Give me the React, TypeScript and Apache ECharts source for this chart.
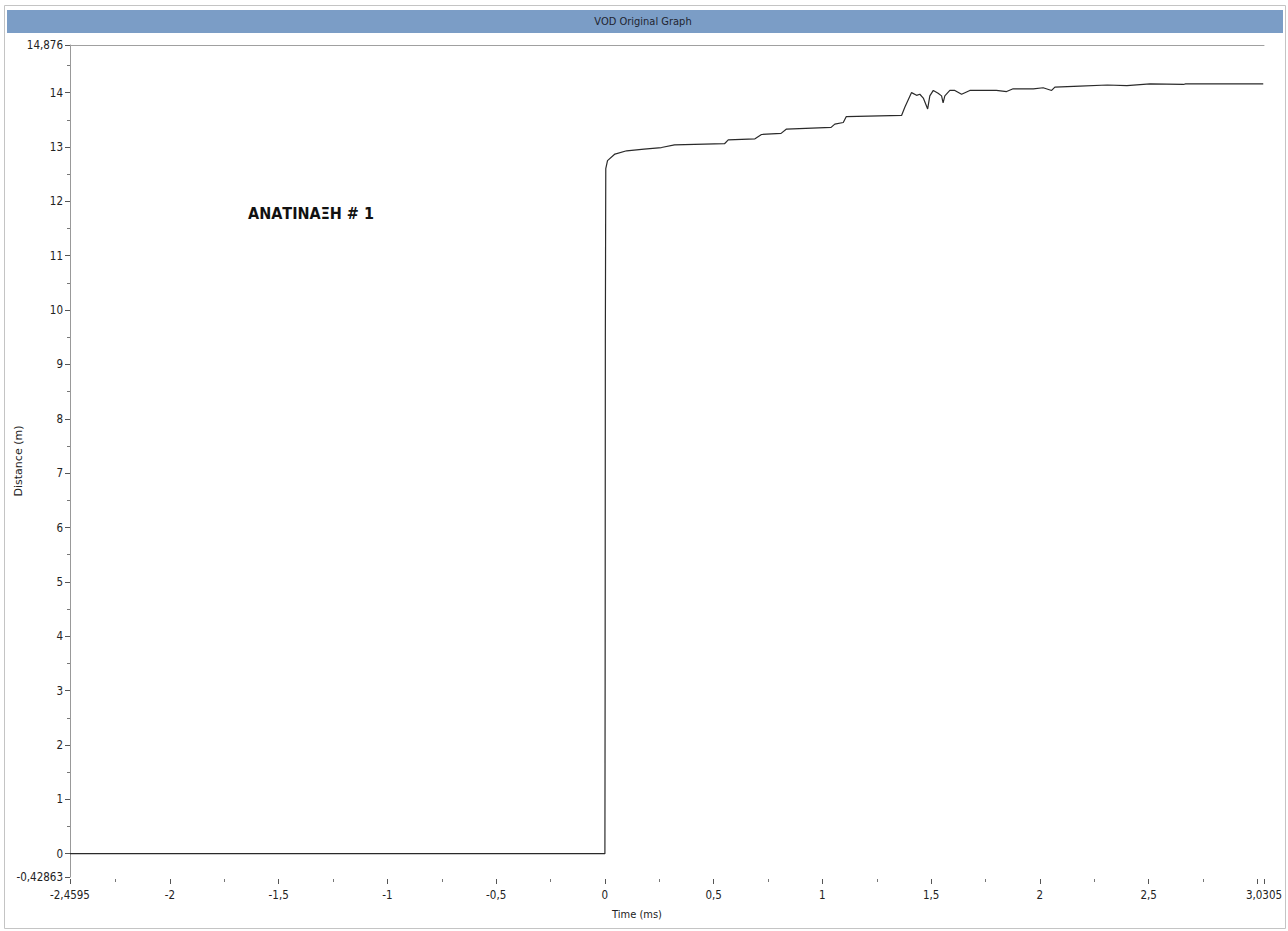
import React, { useEffect, useRef } from "react";
import * as echarts from "echarts";

const chartTitle = "VOD Original Graph";
const annotation = "ΑΝΑΤΙΝΑΞΗ # 1";
const xAxisName = "Time (ms)";
const yAxisName = "Distance (m)";

const xMin = -2.4595;
const xMax = 3.0305;
const yMin = -0.42863;
const yMax = 14.876;

const xMajorTicks = [-2.4595, -2, -1.5, -1, -0.5, 0, 0.5, 1, 1.5, 2, 2.5, 3, 3.0305];
const xLabelValues = [-2.4595, -2, -1.5, -1, -0.5, 0, 0.5, 1, 1.5, 2, 2.5, 3.0305];
const xMinorTicks = [-2.25, -1.75, -1.25, -0.75, -0.25, 0.25, 0.75, 1.25, 1.75, 2.25, 2.75];
const yMajorTicks = [-0.42863, 0, 1, 2, 3, 4, 5, 6, 7, 8, 9, 10, 11, 12, 13, 14, 14.876];
const yMinorTicks = [0.5, 1.5, 2.5, 3.5, 4.5, 5.5, 6.5, 7.5, 8.5, 9.5, 10.5, 11.5, 12.5, 13.5, 14.5];

const timeMs = [
  -2.4595, 0, 0.001, 0.002, 0.004, 0.012, 0.046, 0.1, 0.18, 0.26, 0.32, 0.55, 0.567,
  0.69, 0.72, 0.81, 0.835, 1.04, 1.057, 1.096, 1.11, 1.364, 1.379, 1.41, 1.433, 1.448,
  1.464, 1.484, 1.494, 1.51, 1.532, 1.548, 1.555, 1.563, 1.586, 1.609, 1.64, 1.678,
  1.74, 1.8, 1.847, 1.877, 1.97, 2.015, 2.054, 2.069, 2.184, 2.31, 2.4, 2.506, 2.66,
  2.67, 3.027,
];
const distanceM = [
  0, 0, 3.1, 9.5, 12.6, 12.75, 12.87, 12.93, 12.96, 12.99, 13.04, 13.06, 13.13,
  13.15, 13.23, 13.25, 13.33, 13.36, 13.42, 13.45, 13.56, 13.58, 13.73, 14.0, 13.95, 13.97,
  13.9, 13.7, 13.94, 14.04, 13.99, 13.94, 13.81, 13.94, 14.04, 14.04, 13.97, 14.04,
  14.04, 14.04, 14.02, 14.07, 14.07, 14.09, 14.04, 14.1, 14.12, 14.14, 14.13, 14.16, 14.15,
  14.16, 14.16,
];

const FONT = "'DejaVu Sans Condensed', sans-serif";
const fmt = (v: number) => String(v).replace(".", ",");

export default function App() {
  const ref = useRef<HTMLDivElement>(null);
  useEffect(() => {
    if (!ref.current) return;
    const chart = echarts.init(ref.current, undefined, { renderer: "svg" });
    const data = timeMs.map((t, i) => [t, distanceM[i]]);
    const axisCommon = { splitLine: { show: false } };
    chart.setOption({
      animation: false,
      backgroundColor: "#ffffff",
      grid: { left: 70, right: 24, top: 45, bottom: 54, outerBoundsMode: "none", containLabel: false },
      graphic: [
        {
          type: "rect",
          shape: { x: 4.5, y: 5.5, width: 1281, height: 923 },
          style: { fill: "none", stroke: "#c4c4c4", lineWidth: 1 },
          silent: true,
        },
        {
          type: "rect",
          shape: { x: 7, y: 10, width: 1276, height: 23 },
          style: { fill: "#7b9dc6" },
          silent: true,
        },
        {
          type: "text",
          x: 643,
          y: 21.5,
          style: {
            text: chartTitle,
            fill: "#1e2430",
            font: `11px ${FONT}`,
            align: "center",
            verticalAlign: "middle",
          },
          silent: true,
        },
        {
          type: "text",
          x: 248,
          y: 213,
          style: {
            text: annotation,
            fill: "#111111",
            font: `bold 16px ${FONT}`,
            align: "left",
            verticalAlign: "middle",
          },
          silent: true,
        },
        {
          type: "text",
          x: 637,
          y: 914,
          style: {
            text: xAxisName,
            fill: "#222222",
            font: `11px ${FONT}`,
            align: "center",
            verticalAlign: "middle",
          },
          silent: true,
        },
      ],
      xAxis: [
        {
          ...axisCommon,
          type: "value",
          min: xMin,
          max: xMax,
          position: "bottom",
          offset: 2,
          axisLine: { show: false, onZero: false },
          axisTick: {
            show: true,
            length: 5,
            customValues: xMajorTicks,
            lineStyle: { color: "#555" },
          },
          axisLabel: {
            customValues: xLabelValues,
            formatter: (v: number) => fmt(v),
            color: "#222",
            fontFamily: FONT,
            fontSize: 11.5,
            margin: 10,
          },
        },
        {
          ...axisCommon,
          type: "value",
          min: xMin,
          max: xMax,
          position: "bottom",
          offset: 2,
          axisLine: { show: false, onZero: false },
          axisTick: {
            show: true,
            length: 3,
            customValues: xMinorTicks,
            lineStyle: { color: "#777" },
          },
          axisLabel: { show: false },
        },
        {
          ...axisCommon,
          type: "value",
          min: xMin,
          max: xMax,
          position: "top",
          axisLine: { show: true, onZero: false, lineStyle: { color: "#a0a0a0", width: 1 } },
          axisTick: { show: false },
          axisLabel: { show: false },
        },
      ],
      yAxis: [
        {
          ...axisCommon,
          type: "value",
          min: yMin,
          max: yMax,
          position: "left",
          name: yAxisName,
          nameLocation: "middle",
          nameRotate: 90,
          nameGap: 46,
          nameMoveOverlap: false,
          nameTextStyle: { fontFamily: "'DejaVu Sans', sans-serif", fontSize: 11, color: "#222" },
          axisLine: { show: true, onZero: false, lineStyle: { color: "#999", width: 1 } },
          axisTick: {
            show: true,
            length: 5,
            customValues: yMajorTicks,
            lineStyle: { color: "#555" },
          },
          axisLabel: {
            customValues: yMajorTicks,
            formatter: (v: number) => fmt(v),
            color: "#222",
            fontFamily: FONT,
            fontSize: 11.5,
            margin: 7,
          },
        },
        {
          ...axisCommon,
          type: "value",
          min: yMin,
          max: yMax,
          position: "left",
          axisLine: { show: false, onZero: false },
          axisTick: {
            show: true,
            length: 3,
            customValues: yMinorTicks,
            lineStyle: { color: "#777" },
          },
          axisLabel: { show: false },
        },
      ],
      series: [
        {
          type: "line",
          xAxisIndex: 0,
          yAxisIndex: 0,
          data,
          showSymbol: false,
          symbol: "none",
          lineStyle: { color: "#2a2a2a", width: 1.2 },
        },
      ],
    });
    return () => chart.dispose();
  }, []);
  return (
    <div
      ref={ref}
      style={{ position: "fixed", left: 0, top: 0, width: 1288, height: 931, background: "#fff" }}
    />
  );
}
